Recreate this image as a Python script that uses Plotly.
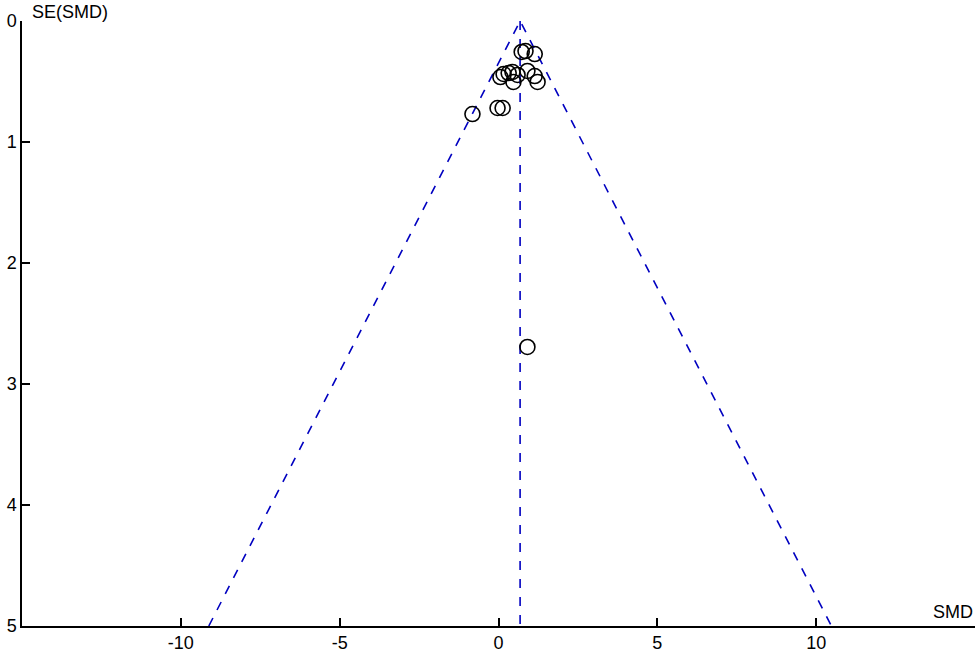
import plotly.graph_objects as go

# Study estimates (standardized mean difference) and their standard errors
smd = [0.73, 0.85, 1.14, 0.06, 0.16, 0.32, 0.44, 0.60, 0.47, 0.91, 1.14, 1.23, -0.03, 0.13, -0.82, 0.91]
se = [0.256, 0.248, 0.273, 0.463, 0.438, 0.430, 0.421, 0.446, 0.504, 0.413, 0.455, 0.504, 0.719, 0.719, 0.769, 2.694]

pooled = 0.68
se_max = 5
x_ticks = [-10, -5, 0, 5, 10]
x_labels = ["-10", "-5", "0", "5", "10"]
y_ticks = [0, 1, 2, 3, 4, 5]

blue = "#0000C0"
fig = go.Figure()
fig.add_trace(go.Scatter(
    x=[pooled - 1.96 * se_max, pooled, pooled + 1.96 * se_max],
    y=[se_max, 0, se_max], mode="lines",
    line=dict(color=blue, width=1.6, dash="dash"), hoverinfo="skip"))
fig.add_trace(go.Scatter(
    x=[pooled, pooled], y=[0, se_max], mode="lines",
    line=dict(color=blue, width=1.6, dash="dash"), hoverinfo="skip"))
fig.add_trace(go.Scatter(
    x=smd, y=se, mode="markers",
    marker=dict(symbol="circle-open", size=15, color="black", line=dict(width=1.6, color="black"))))

font = dict(family="Liberation Sans, Arial, sans-serif", size=18, color="black")
fig.update_layout(
    width=976, height=657, showlegend=False,
    paper_bgcolor="white", plot_bgcolor="white",
    margin=dict(l=22, r=1, t=21, b=31),
    font=font,
    xaxis=dict(range=[-15, 15], tickvals=x_ticks, ticktext=x_labels, ticks="inside", ticklen=8, tickwidth=1.5,
               tickcolor="black", showline=True, linecolor="black", linewidth=1.5,
               showgrid=False, zeroline=False, automargin=False, tickfont=font),
    yaxis=dict(range=[5, 0], tickvals=y_ticks, ticks="inside", ticklen=8, tickwidth=1.5,
               tickcolor="black", showline=True, linecolor="black", linewidth=1.5,
               showgrid=False, zeroline=False, automargin=False, tickfont=font),
    annotations=[
        dict(text="SE(SMD)", x=0, y=1, xref="paper", yref="paper", xanchor="left", yanchor="bottom",
             xshift=8, yshift=-3, showarrow=False, font=font),
        dict(text="SMD", x=1, y=0, xref="paper", yref="paper", xanchor="right", yanchor="bottom",
             xshift=0, yshift=2, showarrow=False, font=font),
    ],
)
fig.write_html("out.html", config={"displayModeBar": False},
               post_script="document.body.style.margin='0';document.body.style.overflow='hidden';")
